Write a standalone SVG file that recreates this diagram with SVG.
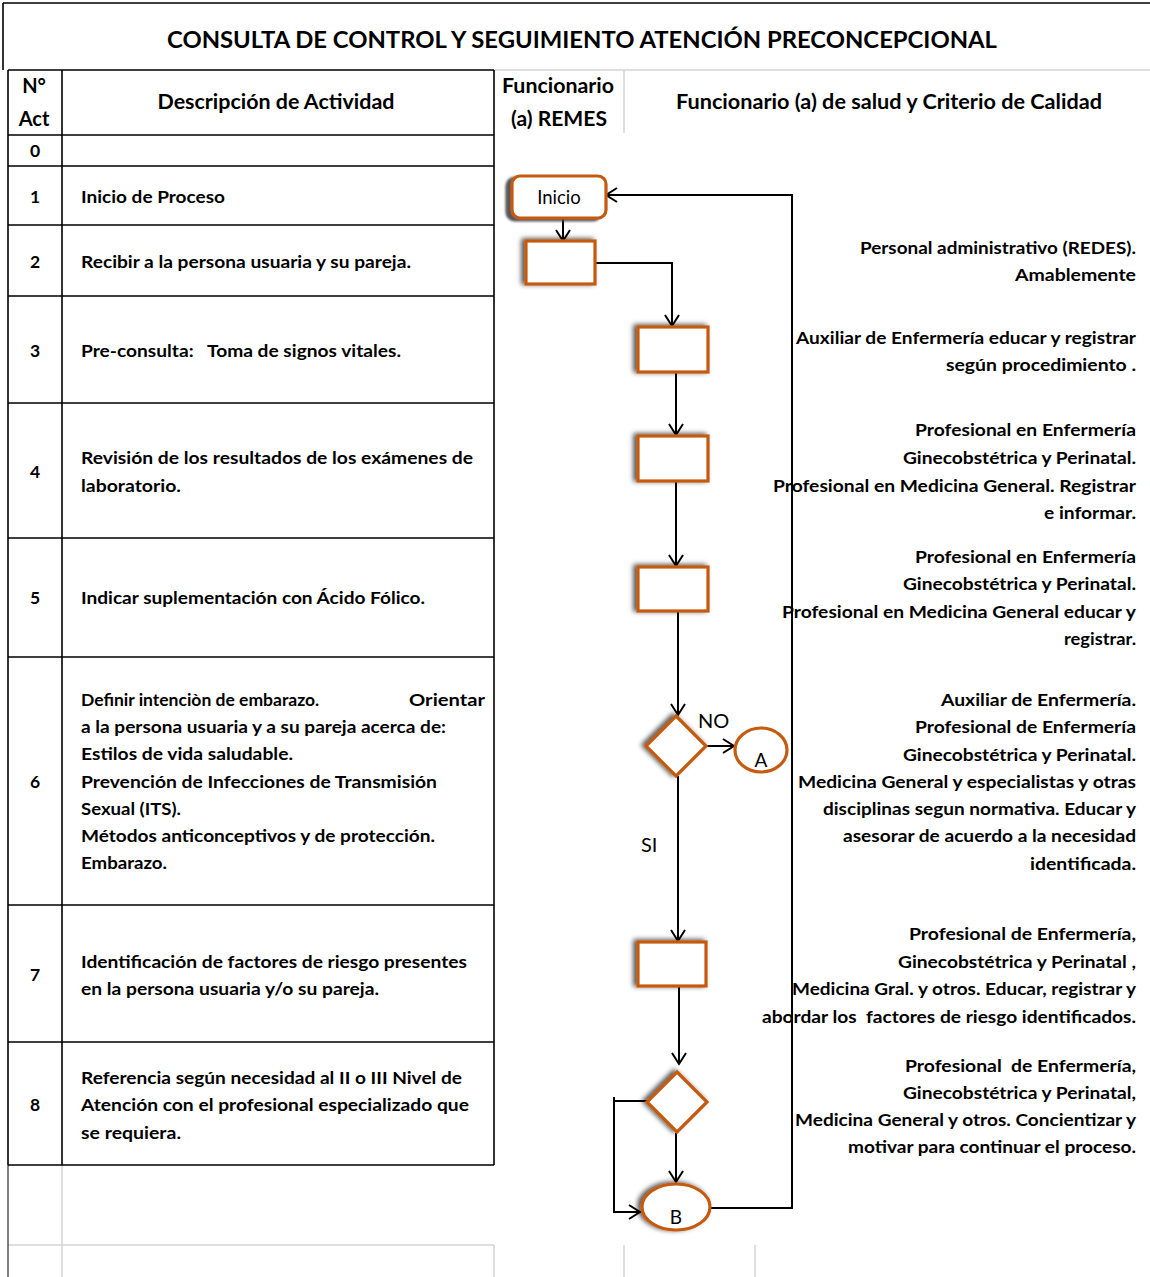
<svg xmlns="http://www.w3.org/2000/svg" width="1150" height="1277" viewBox="0 0 1150 1277">
<style>
.b{font-family:Lato,"Liberation Sans",sans-serif;font-weight:bold;fill:#000}
.t{font-size:17.5px}
.r{text-anchor:end}
.c{text-anchor:middle}
.h{font-size:20px}
.n{font-family:Lato,"Liberation Sans",sans-serif;font-weight:normal;fill:#000}
.tb{stroke:#000;stroke-width:1.6;fill:none}
.gr{stroke:#d4d4d4;stroke-width:1.5;fill:none}
.sh{fill:#fff;stroke:#c55a11;stroke-width:3.2}
.cn{stroke:#000;stroke-width:2;fill:none}
</style>
<defs>
<marker id="ar" markerUnits="userSpaceOnUse" markerWidth="16" markerHeight="16" refX="13" refY="8" orient="auto">
<path d="M2,1 L13,8 L2,15" fill="none" stroke="#000" stroke-width="2"/>
</marker>
<filter id="ds" x="-30%" y="-30%" width="160%" height="160%">
<feDropShadow dx="-3" dy="-1" stdDeviation="2.5" flood-color="#000" flood-opacity="0.7"/>
</filter>
<filter id="ds2" x="-30%" y="-30%" width="160%" height="160%">
<feDropShadow dx="-5" dy="2" stdDeviation="1" flood-color="#444" flood-opacity="0.9"/>
</filter>
</defs>
<rect width="1150" height="1277" fill="#fff"/>

<g id="frame">
<path class="tb" d="M3,3 H1150 M3,3 V70"/>
<path class="gr" d="M494,70 H1150 M624,70 V133 M62,1165 V1277 M8,1245 H494 M494,1245 V1277 M624,1245 V1277 M755,1245 V1277"/>
<path class="tb" d="M8,70 H494 M8,135 H494 M8,166 H494 M8,225 H494 M8,296 H494 M8,403 H494 M8,538 H494 M8,657 H494 M8,905 H494 M8,1042 H494 M8,1165 H494 M8,70 V1165 M62,70 V1165 M494,70 V1165"/>
<path d="M8,1165 V1277" stroke="#000" stroke-width="1"/>
</g>

<g id="title">
<text class="b c" x="582" y="48" font-size="22" textLength="830" lengthAdjust="spacingAndGlyphs">CONSULTA DE CONTROL Y SEGUIMIENTO ATENCIÓN PRECONCEPCIONAL</text>
</g>

<g id="header">
<text class="b c h" x="34" y="93">N°</text>
<text class="b c h" x="34" y="126">Act</text>
<text class="b c h" x="276" y="109" textLength="237" lengthAdjust="spacingAndGlyphs">Descripción de Actividad</text>
<text class="b c h" x="558" y="93" textLength="112" lengthAdjust="spacingAndGlyphs">Funcionario</text>
<text class="b c h" x="559" y="126" textLength="96" lengthAdjust="spacingAndGlyphs">(a) REMES</text>
<text class="b c h" x="889" y="109" textLength="426" lengthAdjust="spacingAndGlyphs">Funcionario (a) de salud y Criterio de Calidad</text>
</g>

<g id="rows" class="b t">
<text class="c" x="35" y="157">0</text>
<text class="c" x="35" y="203">1</text>
<text x="81" y="203" textLength="144" lengthAdjust="spacingAndGlyphs">Inicio de Proceso</text>
<text class="c" x="35" y="268">2</text>
<text x="81" y="268" textLength="330" lengthAdjust="spacingAndGlyphs">Recibir a la persona usuaria y su pareja.</text>
<text class="c" x="35" y="357">3</text>
<text x="81" y="357" xml:space="preserve" textLength="320" lengthAdjust="spacingAndGlyphs">Pre-consulta:   Toma de signos vitales.</text>
<text class="c" x="35" y="478">4</text>
<text x="81" y="464" textLength="392" lengthAdjust="spacingAndGlyphs">Revisión de los resultados de los exámenes de</text>
<text x="81" y="492" textLength="100" lengthAdjust="spacingAndGlyphs">laboratorio.</text>
<text class="c" x="35" y="604">5</text>
<text x="81" y="604" textLength="344" lengthAdjust="spacingAndGlyphs">Indicar suplementación con Ácido Fólico.</text>
<text class="c" x="35" y="788">6</text>
<text x="81" y="706">Definir intenciòn de embarazo.</text>
<text x="409" y="706" textLength="76" lengthAdjust="spacingAndGlyphs">Orientar</text>
<text x="81" y="733" textLength="365" lengthAdjust="spacingAndGlyphs">a la persona usuaria y a su pareja acerca de:</text>
<text x="81" y="760" textLength="212" lengthAdjust="spacingAndGlyphs">Estilos de vida saludable.</text>
<text x="81" y="788" textLength="356" lengthAdjust="spacingAndGlyphs">Prevención de Infecciones de Transmisión</text>
<text x="81" y="815" textLength="100" lengthAdjust="spacingAndGlyphs">Sexual (ITS).</text>
<text x="81" y="842" textLength="354" lengthAdjust="spacingAndGlyphs">Métodos anticonceptivos y de protección.</text>
<text x="81" y="869" textLength="86" lengthAdjust="spacingAndGlyphs">Embarazo.</text>
<text class="c" x="35" y="981">7</text>
<text x="81" y="968" textLength="386" lengthAdjust="spacingAndGlyphs">Identificación de factores de riesgo presentes</text>
<text x="81" y="995" textLength="298" lengthAdjust="spacingAndGlyphs">en la persona usuaria y/o su pareja.</text>
<text class="c" x="35" y="1111">8</text>
<text x="81" y="1084" textLength="381" lengthAdjust="spacingAndGlyphs">Referencia según necesidad al II o III Nivel de</text>
<text x="81" y="1111" textLength="388" lengthAdjust="spacingAndGlyphs">Atención con el profesional especializado que</text>
<text x="81" y="1139" textLength="100" lengthAdjust="spacingAndGlyphs">se requiera.</text>
</g>

<g id="connectors">
<path class="cn" d="M563,218 V241" marker-end="url(#ar)"/>
<path class="cn" d="M595,263 H672 V326" marker-end="url(#ar)"/>
<path class="cn" d="M676,372 V435" marker-end="url(#ar)"/>
<path class="cn" d="M676,481 V566" marker-end="url(#ar)"/>
<path class="cn" d="M678,611 V715" marker-end="url(#ar)"/>
<path class="cn" d="M706,746 H734" marker-end="url(#ar)"/>
<path class="cn" d="M678,776 V941" marker-end="url(#ar)"/>
<path class="cn" d="M679,986 V1064" marker-end="url(#ar)"/>
<path class="cn" d="M676,1133 V1182" marker-end="url(#ar)"/>
<path class="cn" d="M647,1101 H614"/>
<path class="cn" d="M614,1097 V1212 H640" marker-end="url(#ar)"/>
<path class="cn" d="M711,1208 H792 V195 H606" marker-end="url(#ar)"/>
<text class="n" x="698" y="728" font-size="20">NO</text>
<text class="n" x="641" y="852" font-size="20">SI</text>
</g>

<g id="n1"><rect class="sh" x="512" y="176" width="94" height="42" rx="8" filter="url(#ds2)"/><text class="n c" x="559" y="204" font-size="18.5">Inicio</text></g>
<g id="n2"><rect class="sh" x="526" y="241" width="69" height="43" filter="url(#ds)"/></g>
<g id="n3"><rect class="sh" x="638" y="327" width="70" height="45" filter="url(#ds)"/></g>
<g id="n4"><rect class="sh" x="638" y="436" width="70" height="45" filter="url(#ds)"/></g>
<g id="n5"><rect class="sh" x="638" y="567" width="70" height="44" filter="url(#ds)"/></g>
<g id="n6"><path class="sh" d="M676,716 L706,746 L676,776 L646,746 Z" filter="url(#ds)"/></g>
<g id="nA"><ellipse class="sh" cx="761" cy="750" rx="26" ry="22" stroke-width="2.5"/><text class="n c" x="761" y="767" font-size="19">A</text></g>
<g id="n7"><rect class="sh" x="638" y="942" width="68" height="44" filter="url(#ds)"/></g>
<g id="n8"><path class="sh" d="M677,1072 L707,1102 L677,1132 L647,1102 Z" filter="url(#ds)"/></g>
<g id="nB"><ellipse class="sh" cx="676" cy="1207" rx="34" ry="23" stroke-width="2.5" filter="url(#ds)"/><text class="n c" x="676" y="1224" font-size="19">B</text></g>

<g id="roles" class="b t r">
<text x="1136" y="254" textLength="276" lengthAdjust="spacingAndGlyphs">Personal administrativo (REDES).</text>
<text x="1136" y="281" textLength="121" lengthAdjust="spacingAndGlyphs">Amablemente</text>
<text x="1136" y="344" textLength="340" lengthAdjust="spacingAndGlyphs">Auxiliar de Enfermería educar y registrar</text>
<text x="1136" y="371" textLength="190" lengthAdjust="spacingAndGlyphs">según procedimiento .</text>
<text x="1136" y="436" textLength="221" lengthAdjust="spacingAndGlyphs">Profesional en Enfermería</text>
<text x="1136" y="464" textLength="233" lengthAdjust="spacingAndGlyphs">Ginecobstétrica y Perinatal.</text>
<text x="1136" y="492" textLength="363" lengthAdjust="spacingAndGlyphs">Profesional en Medicina General. Registrar</text>
<text x="1136" y="519" textLength="92" lengthAdjust="spacingAndGlyphs">e informar.</text>
<text x="1136" y="563" textLength="221" lengthAdjust="spacingAndGlyphs">Profesional en Enfermería</text>
<text x="1136" y="590" textLength="233" lengthAdjust="spacingAndGlyphs">Ginecobstétrica y Perinatal.</text>
<text x="1136" y="618" textLength="354" lengthAdjust="spacingAndGlyphs">Profesional en Medicina General educar y</text>
<text x="1136" y="645" textLength="72" lengthAdjust="spacingAndGlyphs">registrar.</text>
<text x="1136" y="706" textLength="195" lengthAdjust="spacingAndGlyphs">Auxiliar de Enfermería.</text>
<text x="1136" y="733" textLength="221" lengthAdjust="spacingAndGlyphs">Profesional de Enfermería</text>
<text x="1136" y="761" textLength="233" lengthAdjust="spacingAndGlyphs">Ginecobstétrica y Perinatal.</text>
<text x="1136" y="788" textLength="338" lengthAdjust="spacingAndGlyphs">Medicina General y especialistas y otras</text>
<text x="1136" y="815" textLength="313" lengthAdjust="spacingAndGlyphs">disciplinas segun normativa. Educar y</text>
<text x="1136" y="842" textLength="293" lengthAdjust="spacingAndGlyphs">asesorar de acuerdo a la necesidad</text>
<text x="1136" y="870" textLength="106" lengthAdjust="spacingAndGlyphs">identificada.</text>
<text x="1136" y="940" textLength="227" lengthAdjust="spacingAndGlyphs">Profesional de Enfermería,</text>
<text x="1136" y="968" textLength="238" lengthAdjust="spacingAndGlyphs">Ginecobstétrica y Perinatal ,</text>
<text x="1136" y="995" textLength="344" lengthAdjust="spacingAndGlyphs">Medicina Gral. y otros. Educar, registrar y</text>
<text x="1136" y="1023" xml:space="preserve" textLength="374" lengthAdjust="spacingAndGlyphs">abordar los  factores de riesgo identificados.</text>
<text x="1136" y="1072" xml:space="preserve" textLength="231" lengthAdjust="spacingAndGlyphs">Profesional  de Enfermería,</text>
<text x="1136" y="1099" textLength="233" lengthAdjust="spacingAndGlyphs">Ginecobstétrica y Perinatal,</text>
<text x="1136" y="1126" textLength="341" lengthAdjust="spacingAndGlyphs">Medicina General y otros. Concientizar y</text>
<text x="1136" y="1153" textLength="288" lengthAdjust="spacingAndGlyphs">motivar para continuar el proceso.</text>
</g>
</svg>
